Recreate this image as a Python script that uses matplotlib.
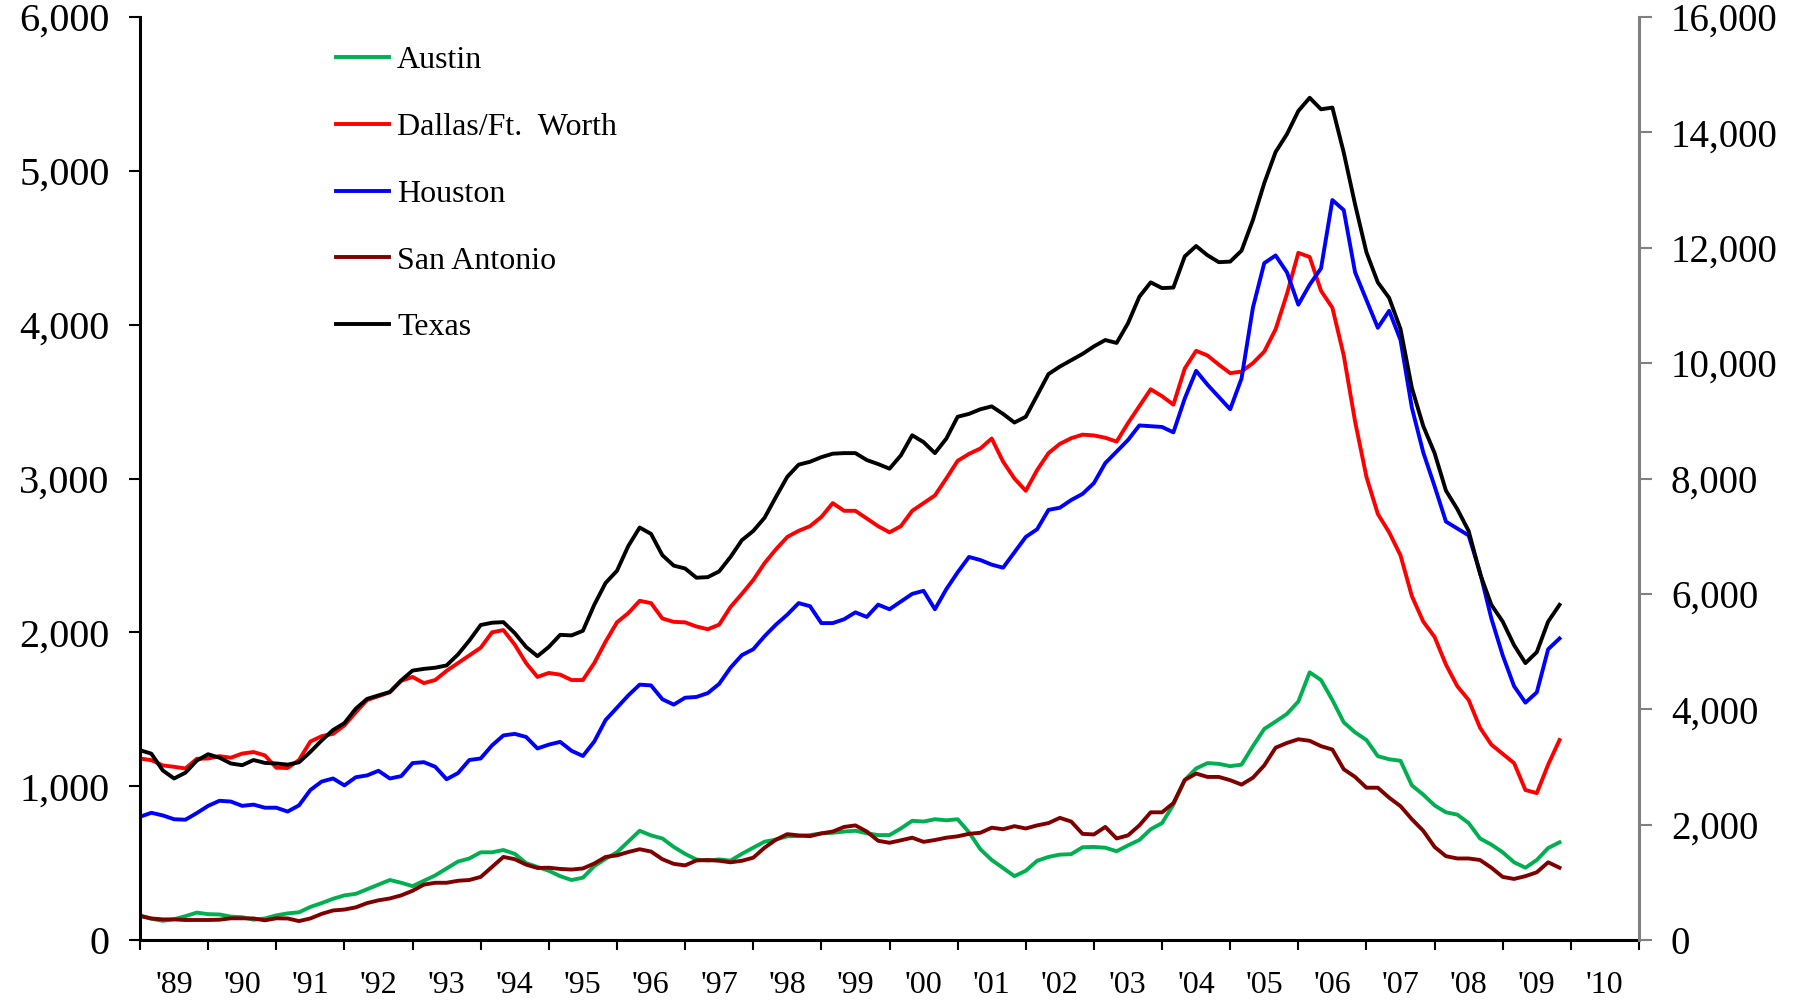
import numpy as np
import matplotlib
matplotlib.use("Agg")
import matplotlib.pyplot as plt
from matplotlib.ticker import FuncFormatter

plt.rcParams['font.family'] = ['Liberation Serif', 'DejaVu Serif']

# bi-monthly readings, Jan 1989 .. Nov 2009
t = 1989 + np.arange(126) / 6.0

austin = [
    160, 138, 125, 135, 155, 178, 168, 166, 152, 148, 132, 140,
    160, 173, 180, 215, 240, 268, 290, 300, 330, 360, 390, 372,
    350, 385, 420, 465, 510, 530, 570, 570, 585, 560, 500, 475,
    450, 415, 390, 405, 480, 528, 570, 640, 710, 680, 660, 605,
    560, 523, 516, 524, 516, 560, 600, 639, 653, 674, 676, 682,
    693, 697, 705, 710, 694, 682, 682, 725, 775, 770, 785, 778,
    785, 700, 590, 520, 468, 415, 450, 515, 540, 555, 558, 603,
    605, 600, 577, 615, 650, 720, 760, 880, 1040, 1115, 1150, 1145,
    1130, 1140, 1260, 1372, 1420, 1470, 1550, 1740, 1690, 1560, 1415, 1350,
    1300, 1195, 1175, 1165, 1005, 945, 875, 830, 815, 760, 660, 620,
    570, 505, 470, 520, 598, 635,
]

dallas = [
    1180, 1169, 1135, 1126, 1115, 1178, 1180, 1195, 1185, 1212, 1222, 1200,
    1120, 1118, 1170, 1290, 1325, 1340, 1395, 1480, 1560, 1585, 1610, 1685,
    1710, 1670, 1690, 1750, 1800, 1850, 1900, 2000, 2015, 1920, 1800, 1710,
    1736, 1725, 1690, 1690, 1800, 1940, 2065, 2125, 2205, 2190, 2090, 2068,
    2065, 2038, 2020, 2050, 2165, 2250, 2340, 2450, 2540, 2620, 2660, 2690,
    2750, 2840, 2790, 2790, 2740, 2690, 2650, 2690, 2790, 2840, 2890, 3000,
    3115, 3160, 3195, 3260, 3110, 3000, 2920, 3055, 3165, 3225, 3262, 3285,
    3280, 3265, 3240, 3360, 3470, 3580, 3535, 3480, 3715, 3830, 3800, 3740,
    3685, 3695, 3750, 3825, 3970, 4200, 4467, 4440, 4220, 4110, 3800, 3370,
    3010, 2770, 2650, 2500, 2235, 2070, 1970, 1790, 1650, 1560, 1380, 1270,
    1210, 1150, 975, 955, 1140, 1300,
]

houston = [
    801, 827, 810, 785, 782, 825, 872, 905, 900, 872, 880, 860,
    860, 835, 875, 975, 1030, 1050, 1005, 1058, 1070, 1100, 1050, 1065,
    1150, 1156, 1126, 1045, 1085, 1170, 1180, 1265, 1330, 1340, 1320, 1245,
    1270, 1288, 1230, 1196, 1290, 1430, 1510, 1590, 1660, 1655, 1565, 1530,
    1575, 1580, 1605, 1665, 1770, 1852, 1890, 1975, 2050, 2115, 2190, 2170,
    2060, 2060, 2085, 2130, 2100, 2180, 2150, 2200, 2250, 2270, 2150, 2280,
    2390, 2490, 2470, 2440, 2420, 2520, 2620, 2670, 2796, 2810, 2860, 2900,
    2970, 3100, 3175, 3250, 3345, 3340, 3335, 3300, 3520, 3700, 3610, 3530,
    3450, 3650, 4110, 4400, 4450, 4340, 4130, 4260, 4366, 4810, 4745, 4340,
    4160, 3980, 4090, 3900, 3460, 3170, 2950, 2720, 2675, 2630, 2390, 2090,
    1850, 1650, 1543, 1610, 1890, 1960,
]

san_antonio = [
    156, 140, 134, 134, 130, 130, 130, 132, 141, 141, 140, 128,
    141, 140, 123, 140, 170, 192, 198, 212, 240, 258, 270, 290,
    320, 360, 372, 372, 385, 390, 410, 475, 540, 525, 490, 468,
    470, 462, 458, 465, 497, 540, 550, 572, 590, 575, 525, 495,
    485, 517, 520, 515, 505, 515, 535, 600, 652, 688, 680, 675,
    693, 705, 735, 745, 705, 645, 632, 648, 665, 638, 650, 665,
    674, 690, 697, 730, 720, 740, 725, 745, 760, 794, 770, 690,
    686, 735, 660, 680, 745, 830, 830, 890, 1040, 1082, 1060, 1060,
    1039, 1010, 1055, 1135, 1250, 1281, 1305, 1295, 1260, 1238, 1110, 1060,
    990, 990, 925, 870, 785, 710, 605, 545, 530, 530, 520, 470,
    410, 397, 415, 440, 505, 470,
]

# Texas on the right-hand scale
texas = [
    3290, 3230, 2940, 2800, 2900, 3110, 3220, 3160, 3060, 3030, 3120, 3070,
    3060, 3040, 3080, 3260, 3460, 3640, 3760, 4010, 4180, 4240, 4300, 4500,
    4670, 4700, 4720, 4760, 4950, 5190, 5460, 5500, 5510, 5320, 5080, 4920,
    5080, 5290, 5280, 5360, 5810, 6190, 6400, 6830, 7150, 7040, 6670, 6490,
    6440, 6280, 6290, 6390, 6640, 6930, 7090, 7320, 7680, 8030, 8240, 8290,
    8370, 8430, 8440, 8440, 8320, 8250, 8170, 8400, 8750, 8630, 8440, 8690,
    9070, 9120, 9200, 9250, 9120, 8970, 9070, 9440, 9810, 9940, 10050, 10160,
    10290, 10400, 10350, 10690, 11150, 11400, 11300, 11310, 11850, 12030, 11870, 11750,
    11760, 11950, 12480, 13120, 13660, 13970, 14370, 14600, 14400, 14430, 13650, 12750,
    11920, 11400, 11130, 10590, 9570, 8910, 8440, 7790, 7470, 7090, 6350, 5810,
    5520, 5110, 4800, 4990, 5520, 5810,
]

year_labels = ["'89", "'90", "'91", "'92", "'93", "'94", "'95", "'96", "'97", "'98", "'99",
               "'00", "'01", "'02", "'03", "'04", "'05", "'06", "'07", "'08", "'09", "'10"]

fig = plt.figure(figsize=(18.03, 10.01), dpi=100)
ax = fig.add_axes([140 / 1803, 61 / 1001, 1499 / 1803, 923 / 1001])
ax2 = ax.twinx()

lw = 2.8
h1, = ax.plot(t, austin, color='#00B050', lw=lw, label='Austin')
h2, = ax.plot(t, dallas, color='#FF0000', lw=lw, label='Dallas/Ft.  Worth')
h3, = ax.plot(t, houston, color='#0000FF', lw=lw, label='Houston')
h4, = ax.plot(t, san_antonio, color='#800000', lw=lw, label='San Antonio')
h5, = ax2.plot(t, texas, color='black', lw=lw, label='Texas')

ax.set_xlim(1989, 2011)
ax.set_ylim(0, 6000)
ax2.set_ylim(0, 16000)
ax.set_yticks(range(0, 6001, 1000))
ax2.set_yticks(range(0, 16001, 2000))
fmt = FuncFormatter(lambda v, p: '{:,.0f}'.format(v))
ax.yaxis.set_major_formatter(fmt)
ax2.yaxis.set_major_formatter(fmt)

ax.set_xticks(range(1989, 2012))
ax.set_xticklabels([])
ax.set_xticks(np.arange(1989.5, 2011), minor=True)
ax.set_xticklabels(year_labels, minor=True)

for s in ['top', 'right']:
    ax.spines[s].set_visible(False)
for s in ['top', 'left', 'bottom']:
    ax2.spines[s].set_visible(False)
ax.spines['left'].set_linewidth(2.2)
ax.spines['bottom'].set_linewidth(2.2)
ax2.spines['right'].set_linewidth(2.2)
ax2.spines['right'].set_color('#808080')

ax.tick_params(axis='y', direction='out', length=8, width=1.5, labelsize=29, pad=14)
ax2.tick_params(axis='y', direction='out', length=9, width=1.5, color='#808080',
                labelsize=28, pad=14)
ax.tick_params(axis='x', which='major', direction='out', length=7, width=1.5)
ax.tick_params(axis='x', which='minor', length=0, labelsize=23, pad=22)

fig.legend(handles=[h1, h2, h3, h4, h5], loc='upper left',
           bbox_to_anchor=(336 / 1803, 1 - 46 / 1001), frameon=False,
           fontsize=23, handlelength=1.66, handletextpad=0.25,
           labelspacing=1.17, borderpad=0, borderaxespad=0)

fig.savefig('out.png', dpi=100)
